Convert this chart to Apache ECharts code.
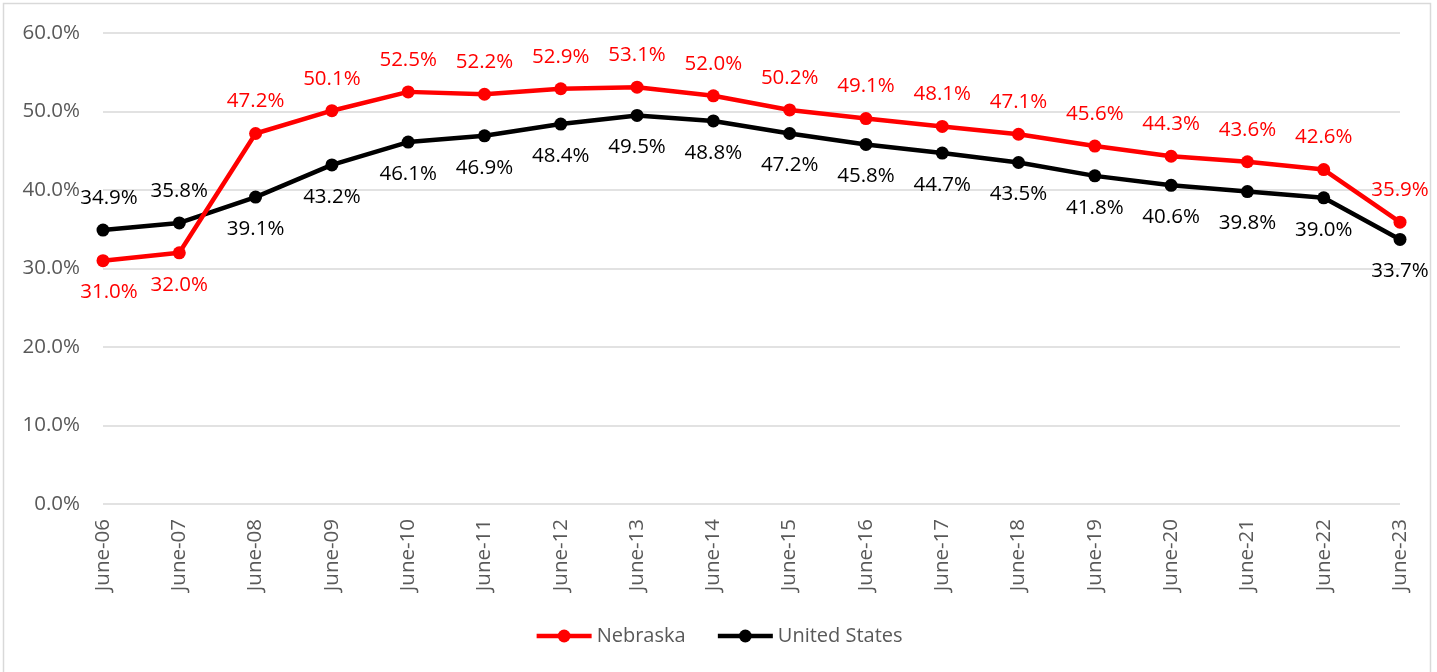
<!DOCTYPE html>
<html>
<head>
<meta charset="utf-8">
<style>
  html, body { margin: 0; padding: 0; background: #fff; }
  #chart { width: 1437px; height: 672px; }
</style>
<script src="https://cdn.jsdelivr.net/npm/echarts@6/dist/echarts.min.js"></script>
</head>
<body>
<div id="chart"></div>
<script>
// School-year snapshot labels (June of each year)
const categories = ['June-06', 'June-07', 'June-08', 'June-09', 'June-10', 'June-11', 'June-12', 'June-13', 'June-14',
  'June-15', 'June-16', 'June-17', 'June-18', 'June-19', 'June-20', 'June-21', 'June-22', 'June-23'];

// Percent values per year
const nebraska = [31.0, 32.0, 47.2, 50.1, 52.5, 52.2, 52.9, 53.1, 52.0, 50.2, 49.1, 48.1, 47.1, 45.6, 44.3, 43.6, 42.6, 35.9];
const unitedStates = [34.9, 35.8, 39.1, 43.2, 46.1, 46.9, 48.4, 49.5, 48.8, 47.2, 45.8, 44.7, 43.5, 41.8, 40.6, 39.8, 39.0, 33.7];

// Value axis ticks
const yTicks = [0, 10, 20, 30, 40, 50, 60];

// Years where a series' label flips to the other side of its line
const nebraskaBelow = ['June-06', 'June-07'];
const usAbove = ['June-06', 'June-07'];

const FONT = '"Open Sans", "Noto Sans", sans-serif';
const LABEL_SIZE = 20.5;
const pct = v => v.toFixed(1) + '%';

function buildData(values, flipCats, flipPos) {
  return values.map((v, i) => {
    const item = { value: v };
    if (flipCats.includes(categories[i])) {
      item.label = { position: flipPos };
    }
    if (i === 0) {
      // keep the first label clear of the value axis labels
      item.label = Object.assign({}, item.label, { offset: [6, 0] });
    }
    return item;
  });
}

const chart = echarts.init(document.getElementById('chart'), null, { renderer: 'canvas' });

chart.setOption({
  backgroundColor: '#ffffff',
  animation: false,
  textStyle: { fontFamily: FONT },
  graphic: [{
    type: 'rect',
    shape: { x: 3.5, y: 3.5, width: 1427, height: 700 },
    style: { fill: 'none', stroke: '#d9d9d9', lineWidth: 1.5 },
    silent: true
  }],
  grid: { left: 103, top: 33, right: 37, height: 471, containLabel: false },
  legend: {
    bottom: 21,
    left: 'center',
    itemWidth: 55,
    itemHeight: 16,
    itemGap: 30,
    lineStyle: { width: 4.5 },
    textStyle: { fontFamily: FONT, fontSize: 20, color: '#595959' },
    data: ['Nebraska', 'United States']
  },
  xAxis: {
    type: 'category',
    data: categories,
    boundaryGap: false,
    axisLine: { show: false },
    axisTick: { show: false },
    axisLabel: {
      rotate: 90,
      interval: 0,
      margin: 15,
      fontFamily: FONT,
      fontSize: LABEL_SIZE,
      color: '#595959'
    },
    splitLine: { show: false }
  },
  yAxis: {
    type: 'value',
    min: yTicks[0],
    max: yTicks[yTicks.length - 1],
    interval: 10,
    axisLine: { show: false },
    axisTick: { show: false },
    axisLabel: {
      margin: 23,
      fontFamily: FONT,
      fontSize: LABEL_SIZE,
      color: '#595959',
      formatter: v => pct(v)
    },
    splitLine: { lineStyle: { color: '#d9d9d9', width: 1.5 } }
  },
  series: [
    {
      name: 'Nebraska',
      type: 'line',
      data: buildData(nebraska, nebraskaBelow, 'bottom'),
      symbol: 'circle',
      symbolSize: 13,
      lineStyle: { color: '#ff0000', width: 4.5 },
      itemStyle: { color: '#ff0000' },
      label: {
        show: true,
        position: 'top',
        distance: 15,
        fontFamily: FONT,
        fontSize: LABEL_SIZE,
        color: '#ff0000',
        formatter: p => pct(p.value)
      },
      z: 3
    },
    {
      name: 'United States',
      type: 'line',
      data: buildData(unitedStates, usAbove, 'top'),
      symbol: 'circle',
      symbolSize: 13,
      lineStyle: { color: '#000000', width: 4.5 },
      itemStyle: { color: '#000000' },
      label: {
        show: true,
        position: 'bottom',
        distance: 15,
        fontFamily: FONT,
        fontSize: LABEL_SIZE,
        color: '#000000',
        formatter: p => pct(p.value)
      },
      z: 2
    }
  ]
});
</script>
</body>
</html>
